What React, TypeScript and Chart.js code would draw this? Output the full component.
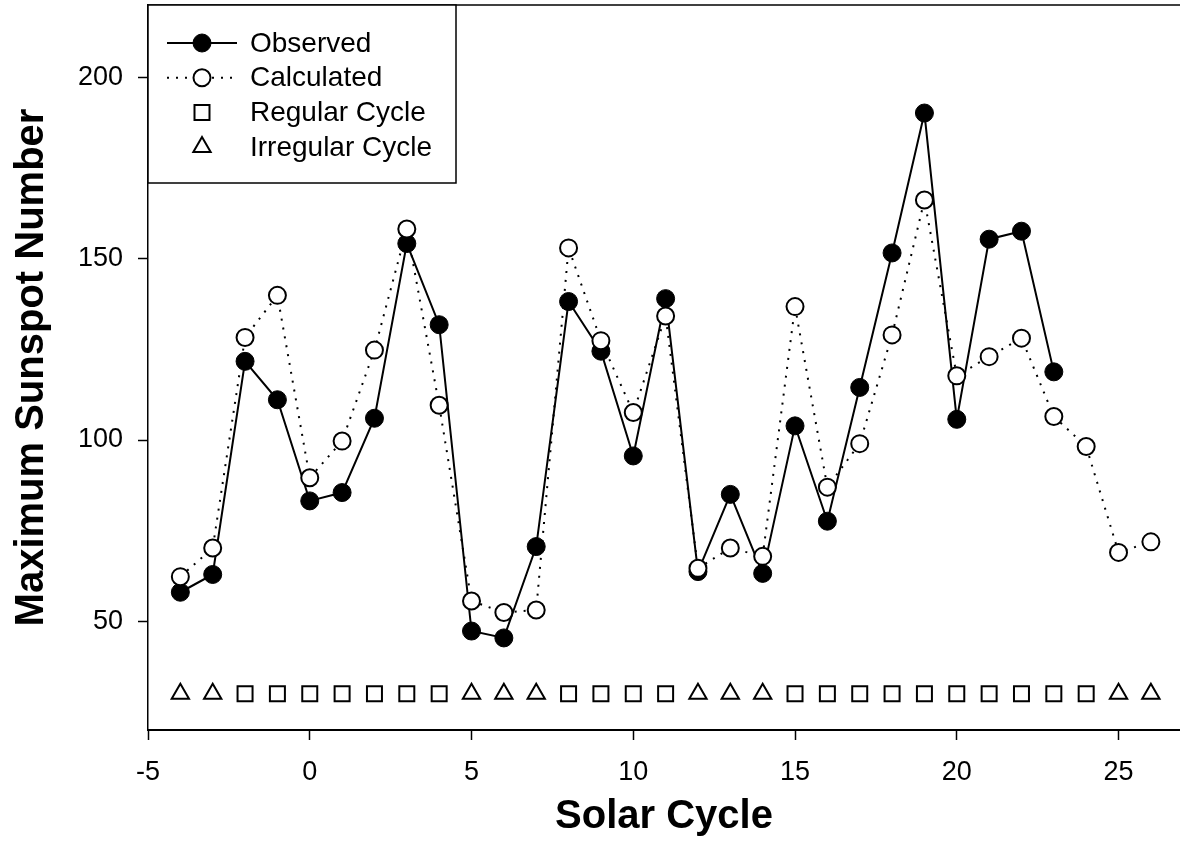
import React, { useEffect, useRef } from "react";
import { Chart, registerables } from "chart.js";
import { drawPoint } from "chart.js/helpers";

Chart.register(...registerables);

// ---- data ----
const cycles = [-4, -3, -2, -1, 0, 1, 2, 3, 4, 5, 6, 7, 8, 9, 10, 11, 12, 13, 14, 15, 16, 17, 18, 19, 20, 21, 22, 23, 24, 25, 26];
const observed = [58.0, 62.9, 121.7, 111.1, 83.2, 85.5, 106.0, 154.2, 131.8, 47.3, 45.4, 70.6, 138.2, 124.5, 95.6, 139.0, 63.7, 85.0, 63.2, 103.9, 77.6, 114.5, 151.6, 190.2, 105.7, 155.4, 157.6, 118.8, null, null, null];
const calculated = [62.3, 70.2, 128.3, 139.9, 89.6, 99.7, 124.8, 158.2, 109.6, 55.6, 52.4, 53.1, 153.0, 127.4, 107.6, 134.2, 64.6, 70.2, 67.9, 136.8, 87.0, 99.0, 129.0, 166.2, 117.7, 123.0, 128.1, 106.5, 98.2, 69.0, 71.9];
const regularCycles = [-2, -1, 0, 1, 2, 3, 4, 8, 9, 10, 11, 15, 16, 17, 18, 19, 20, 21, 22, 23, 24];
const irregularCycles = [-4, -3, 5, 6, 7, 12, 13, 14, 25, 26];
const cycleTypeLevel = 30;
const xTicks = [-5, 0, 5, 10, 15, 20, 25];
const yTicks = [50, 100, 150, 200];
const legendLabels = ["Observed", "Calculated", "Regular Cycle", "Irregular Cycle"];

const FONT = "'Liberation Sans', Arial, Helvetica, sans-serif";

const framePlugin = {
  id: "frameTop",
  afterDraw(chart: any) {
    const { ctx, chartArea } = chart;
    ctx.save();
    ctx.strokeStyle = "#000";
    ctx.lineWidth = 1.5;
    ctx.beginPath();
    ctx.moveTo(chartArea.left, chartArea.top);
    ctx.lineTo(chartArea.right, chartArea.top);
    ctx.stroke();
    ctx.restore();
  },
};

const boxLegendPlugin = {
  id: "boxLegend",
  afterDraw(chart: any) {
    const { ctx, chartArea } = chart;
    const x0 = chartArea.left;
    const y0 = chartArea.top;
    const w = 308;
    const h = 178;
    ctx.save();
    ctx.fillStyle = "#fff";
    ctx.fillRect(x0, y0, w, h);
    ctx.strokeStyle = "#000";
    ctx.lineWidth = 1.5;
    ctx.strokeRect(x0, y0, w, h);
    legendLabels.forEach((label, i) => {
      const ds = chart.data.datasets.find((d: any) => d.label === label);
      if (!ds) return;
      const cy = y0 + 38 + i * 34.7;
      const cx = x0 + 54;
      if (ds.showLine) {
        ctx.save();
        ctx.strokeStyle = ds.borderColor;
        ctx.lineWidth = ds.borderWidth;
        ctx.setLineDash(ds.borderDash || []);
        ctx.beginPath();
        ctx.moveTo(x0 + 19, cy);
        ctx.lineTo(x0 + 89, cy);
        ctx.stroke();
        ctx.restore();
      }
      ctx.save();
      ctx.fillStyle = ds.pointBackgroundColor;
      ctx.strokeStyle = ds.pointBorderColor;
      ctx.lineWidth = ds.pointBorderWidth;
      drawPoint(ctx, { pointStyle: ds.pointStyle, rotation: 0, radius: ds.pointRadius, borderWidth: ds.pointBorderWidth }, cx, cy);
      ctx.restore();
      ctx.fillStyle = "#000";
      ctx.font = `28px ${FONT}`;
      ctx.textAlign = "left";
      ctx.textBaseline = "middle";
      ctx.fillText(label, x0 + 102, cy + 1);
    });
    ctx.restore();
  },
};

export default function App() {
  const ref = useRef<HTMLCanvasElement | null>(null);
  useEffect(() => {
    if (!ref.current) return;
    const obsPts = cycles.map((c, i) => ({ x: c, y: observed[i] })).filter((p) => p.y !== null);
    const calcPts = cycles.map((c, i) => ({ x: c, y: calculated[i] }));
    const chart = new Chart(ref.current, {
      type: "scatter",
      data: {
        datasets: [
          {
            label: "Observed",
            data: obsPts as any,
            showLine: true,
            borderColor: "#000",
            borderWidth: 2,
            pointStyle: "circle",
            pointRadius: 9,
            pointBackgroundColor: "#000",
            pointBorderColor: "#000",
            pointBorderWidth: 1,
            order: 2,
          },
          {
            label: "Calculated",
            data: calcPts,
            showLine: true,
            borderColor: "#000",
            borderWidth: 2,
            borderDash: [2, 7],
            pointStyle: "circle",
            pointRadius: 8.5,
            pointBackgroundColor: "#fff",
            pointBorderColor: "#000",
            pointBorderWidth: 2,
            order: 1,
          },
          {
            label: "Regular Cycle",
            data: regularCycles.map((c) => ({ x: c, y: cycleTypeLevel })),
            showLine: false,
            pointStyle: "rect",
            pointRadius: 10.6,
            pointBackgroundColor: "#fff",
            pointBorderColor: "#000",
            pointBorderWidth: 2,
            order: 3,
          },
          {
            label: "Irregular Cycle",
            data: irregularCycles.map((c) => ({ x: c, y: cycleTypeLevel })),
            showLine: false,
            pointStyle: "triangle",
            pointRadius: 10,
            pointBackgroundColor: "#fff",
            pointBorderColor: "#000",
            pointBorderWidth: 2,
            order: 3,
          },
        ],
      },
      options: {
        responsive: false,
        animation: false,
        layout: { autoPadding: false, padding: { top: 5, left: 0, right: 0, bottom: 0 } },
        plugins: { legend: { display: false }, tooltip: { enabled: false } },
        scales: {
          x: {
            type: "linear",
            min: -5,
            max: 26.9,
            afterBuildTicks: (s: any) => {
              s.ticks = xTicks.map((v) => ({ value: v }));
            },
            afterFit: (s: any) => {
              s.height = 132;
              s.paddingLeft = 0;
              s.paddingRight = 0;
            },
            grid: { drawOnChartArea: false, tickLength: 10, tickColor: "#000", tickWidth: 1.5 },
            border: { display: true, color: "#000", width: 2 },
            ticks: { color: "#000", font: { family: FONT, size: 27 }, padding: 16, maxRotation: 0 },
            title: {
              display: true,
              text: "Solar Cycle",
              color: "#000",
              font: { family: FONT, size: 40, weight: "bold" },
              padding: { top: 0, bottom: 21 },
            },
          },
          y: {
            type: "linear",
            min: 20,
            max: 220,
            afterBuildTicks: (s: any) => {
              s.ticks = yTicks.map((v) => ({ value: v }));
            },
            afterFit: (s: any) => {
              s.width = 148;
              s.paddingTop = 0;
              s.paddingBottom = 0;
            },
            grid: { drawOnChartArea: false, tickLength: 10, tickColor: "#000", tickWidth: 1.5 },
            border: { display: true, color: "#000", width: 1.5 },
            ticks: { color: "#000", font: { family: FONT, size: 27 }, padding: 15 },
            title: {
              display: true,
              text: "Maximum Sunspot Number",
              color: "#000",
              font: { family: FONT, size: 40, weight: "bold" },
              padding: { top: 8, bottom: 0 },
            },
          },
        },
      },
      plugins: [framePlugin, boxLegendPlugin],
    });
    return () => chart.destroy();
  }, []);
  return (
    <canvas
      ref={ref}
      width={1180}
      height={862}
      style={{ position: "absolute", left: 0, top: 0, display: "block", background: "#fff" }}
    />
  );
}
